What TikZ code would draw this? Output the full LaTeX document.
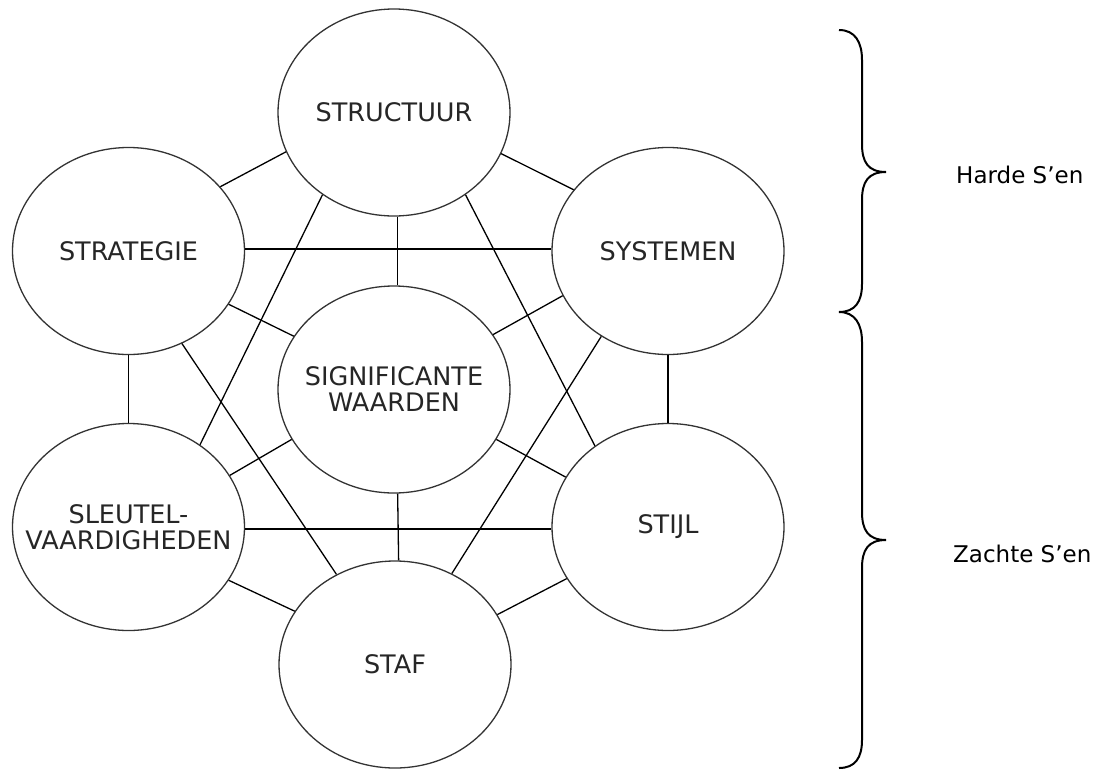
\documentclass[tikz,border=0pt]{standalone}
\usepackage{fontspec}
\setmainfont{DejaVu Sans}
\usetikzlibrary{shapes.geometric}
\newcommand{\bubtxt}[1]{\makebox[0pt]{#1}}
\tikzset{
  sbubble/.style={ellipse, draw=black!80, line width=1.3pt, fill=white,
    minimum width=232pt, minimum height=207pt, inner sep=0pt, align=center,
    font=\fontsize{25.5}{26}\selectfont, text=black!85},
  slink/.style={draw=black, line width=1.3pt},
  sbrace/.style={draw=black, line width=2pt},
  sgroup/.style={anchor=west, inner sep=0pt, font=\fontsize{23}{27}\selectfont}
}
\begin{document}
\begin{tikzpicture}[x=1pt, y=-1pt]
\useasboundingbox (0,0) rectangle (1103,769);
% nodes
\node[sbubble] (stu) at (394,112.5) {\bubtxt{STRUCTUUR}};
\node[sbubble] (str) at (128.5,251) {\bubtxt{STRATEGIE}};
\node[sbubble] (sys) at (668,251) {\bubtxt{SYSTEMEN}};
\node[sbubble] (sig) at (394,389.5) {\bubtxt{SIGNIFICANTE}\\\bubtxt{WAARDEN}};
\node[sbubble] (sle) at (128.5,527) {\bubtxt{SLEUTEL-}\\\bubtxt{VAARDIGHEDEN}};
\node[sbubble] (sti) at (668,527) {\bubtxt{STIJL}};
\node[sbubble] (staf) at (395,664.5) {\bubtxt{STAF}};
% connectors
\draw[slink] (str.35) -- (stu.200);
\draw[slink] (stu.339) -- (sys.147);
\draw[slink] (str.1) -- (sys.179);
\draw[slink] (stu.272) -- (sig.88);
\draw[slink] (stu.229) -- (sle.49);
\draw[slink] (stu.311.5) -- (sti.132);
\draw[slink] (str.332) -- (sig.152.5);
\draw[slink] (str.300) -- (staf.123.5);
\draw[slink] (str.south) -- (sle.north);
\draw[slink] (sys.203) -- (sig.29.3);
\draw[slink] (sys.232) -- (staf.58.5);
\draw[slink] (sys.south) -- (sti.north);
\draw[slink] (sig.206.6) -- (sle.27.6);
\draw[slink] (sig.334) -- (sti.154.3);
\draw[slink] (sig.272) -- (staf.88);
\draw[slink] (sle.359) -- (sti.181);
\draw[slink] (sle.332.4) -- (staf.152.3);
\draw[slink] (sti.207.7) -- (staf.26.3);
% braces
\draw[sbrace] (839,30) .. controls (855,30) and (862,42) .. (862,60)
  -- (862,144) .. controls (862,162) and (868,172) .. (886,172)
  .. controls (868,172) and (862,182) .. (862,200)
  -- (862,284) .. controls (862,302) and (855,312) .. (839,312);
\draw[sbrace] (839,312) .. controls (855,312) and (862,324) .. (862,342)
  -- (862,512) .. controls (862,530) and (868,540) .. (886,540)
  .. controls (868,540) and (862,550) .. (862,568)
  -- (862,740) .. controls (862,758) and (855,768) .. (839,768);
% labels
\node[sgroup] (harde) at (956,175) {Harde S’en};
\node[sgroup] (zachte) at (953,554) {Zachte S’en};
\end{tikzpicture}
\end{document}
